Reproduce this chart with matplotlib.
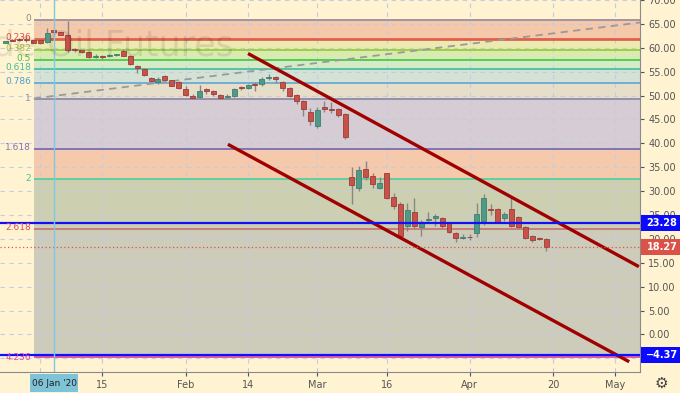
import matplotlib
matplotlib.use("Agg")
import matplotlib.pyplot as plt
from matplotlib.patches import Rectangle

# daily candles, bar index 0 = 06 Jan 2020 (trading days only)
idx = list(range(-7, 72))
opens = [61.1, 61.65, 61.75, 61.85, 61.7, 61.6, 61.2, 63.7, 63.2, 62.7, 59.8, 59.45,
         59.1, 58.1, 58.3, 58.2, 58.5, 59.4, 58.3, 56.2, 55.5, 53.7, 52.8, 54.0,
         53.2, 52.8, 51.3, 50.0, 49.6, 51.3, 51.0, 50.1, 49.6, 49.9, 51.8, 51.5,
         52.5, 52.4, 53.65, 53.8, 52.8, 51.5, 50.1, 48.8, 46.5, 43.6, 47.7, 47.1,
         47.2, 46.2, 33.0, 30.6, 34.6, 33.2, 30.6, 33.7, 28.7, 27.3, 22.8, 25.7,
         22.4, 23.9, 24.4, 24.3, 23.3, 21.2, 20.2, 20.35, 21.2, 23.8, 26.2, 26.2,
         24.3, 26.3, 24.6, 22.4, 20.7, 20.2, 20.0]
highs = [61.5, 61.85, 62.0, 62.2, 61.9, 61.9, 64.2, 63.9, 63.4, 65.7, 59.9, 59.6,
         59.3, 58.6, 58.5, 58.8, 58.7, 59.7, 58.4, 56.4, 55.7, 53.9, 53.8, 54.3,
         53.3, 53.1, 52.0, 50.3, 52.3, 51.6, 51.2, 50.4, 50.4, 51.6, 52.0, 52.4,
         52.8, 53.8, 54.6, 54.0, 53.0, 51.8, 50.4, 49.0, 47.5, 47.6, 48.8, 48.6,
         47.5, 46.4, 35.0, 35.2, 36.4, 33.8, 33.0, 33.9, 29.6, 27.7, 27.6, 28.6,
         24.0, 25.6, 25.2, 24.5, 23.4, 21.4, 21.0, 21.0, 27.6, 29.3, 27.3, 26.5,
         25.6, 28.7, 24.8, 22.6, 20.9, 20.3, 20.1]
lows = [60.9, 61.35, 61.4, 61.3, 60.9, 60.8, 61.1, 63.2, 62.6, 59.2, 59.1, 59.0,
        57.9, 57.9, 57.6, 58.0, 58.2, 58.2, 56.4, 54.7, 54.0, 52.8, 52.5, 53.1,
        51.9, 51.3, 49.9, 49.3, 49.4, 50.4, 50.0, 49.3, 49.3, 49.7, 51.2, 51.3,
        51.0, 52.0, 53.3, 52.6, 51.0, 49.6, 48.3, 45.7, 43.9, 43.3, 46.5, 46.4,
        45.6, 41.0, 27.3, 30.0, 32.3, 30.7, 30.4, 28.3, 26.3, 20.3, 21.7, 22.3,
        20.7, 23.3, 22.8, 22.3, 21.2, 19.3, 19.9, 19.8, 20.4, 23.0, 25.0, 23.3,
        23.8, 22.4, 22.0, 20.0, 19.4, 19.7, 17.5]
closes = [61.4, 61.5, 61.6, 61.55, 61.1, 61.1, 63.0, 63.3, 62.7, 59.6, 59.6, 59.15,
          58.0, 58.25, 58.0, 58.5, 58.55, 58.3, 56.7, 55.7, 54.2, 53.1, 53.5, 53.3,
          52.1, 51.6, 50.1, 49.5, 50.9, 50.9, 50.3, 49.5, 50.0, 51.4, 51.5, 52.3,
          52.3, 53.5, 53.75, 53.4, 51.5, 49.9, 48.8, 47.1, 44.6, 46.9, 47.1, 47.0,
          46.0, 41.3, 31.2, 34.4, 32.9, 31.5, 31.8, 28.6, 26.8, 20.6, 26.0, 22.6,
          23.3, 24.0, 24.7, 22.6, 21.5, 20.2, 20.5, 20.3, 25.3, 28.5, 26.1, 23.5,
          25.2, 22.6, 22.4, 20.2, 19.8, 19.9, 18.27]

# fibonacci levels (price)
fib_ratios = ["0", "0.236", "0.382", "0.5", "0.618", "0.786", "1", "1.618", "2", "2.618", "4.236"]
fib_prices = [65.75, 61.9, 59.45, 57.43, 55.5, 52.7, 49.2, 38.85, 32.5, 22.15, -4.8]
fib_line_colors = ["#9b8fa3", "#e0604f", "#9ccc32", "#4cc94c", "#4cc0a0", "#6aaad2",
                   "#8e8aa8", "#7a6cb8", "#55d0a0", "#c87878", "#e050a0"]
fib_text_colors = ["#8a8a8a", "#e05050", "#a8c83c", "#44c044", "#3cc09a", "#4aa0d0",
                   "#8a8ab0", "#7a74c0", "#3cc898", "#e05050", "#e040a0"]
fib_band_colors = ["#f5c8aa", "#ebeab0", "#d8ebb0", "#d5ebc8", "#d4e2d6", "#e6dec8",
                   "#d5cdd3", "#f5c9ab", "#cdcfb1", "#cdccbb"]
fib_start = -2.9

# drawings
trend_x = [-2.9, 84.6]
trend_y = [49.4, 65.3]
chan_up_x = [28.0, 84.4]
chan_up_y = [58.8, 14.2]
chan_lo_x = [25.1, 83.0]
chan_lo_y = [39.8, -5.7]
hlines_blue = [23.28, -4.37]
last_price = 18.27

tick_pos = [7, 19, 28, 38, 48, 60, 72, 81]
tick_lab = ["15", "Feb", "14", "Mar", "16", "Apr", "20", "May"]
grid_x = [-2, 7, 19, 28, 38, 48, 60, 72, 81]

cream = "#fff3d1"
up_c, up_e = "#4e9a86", "#3d7f6e"
dn_c, dn_e = "#c6524a", "#9c3c36"

YMIN, YMAX = -7.85, 69.65


def fig_y(p):
    # price -> figure fraction (axes spans 21..393 px from bottom)
    return (21 + (p - YMIN) / (YMAX - YMIN) * 372) / 393


fig = plt.figure(figsize=(6.8, 3.93), dpi=100)
fig.patch.set_facecolor(cream)
ax = fig.add_axes([0, 21 / 393, 640 / 680, 372 / 393])
ax.set_facecolor(cream)
ax.set_xlim(-7.79, 84.56)
ax.set_ylim(YMIN, YMAX)

# grid
for y in range(-5, 71, 5):
    ax.axhline(y, color="#c5cbe0", lw=0.8, ls=(0, (4, 4)), zorder=1.5)
for x in grid_x:
    ax.axvline(x, color="#c5cbe0", lw=0.8, ls=(0, (4, 4)), zorder=1.5)

# fib bands + lines
for i in range(len(fib_band_colors)):
    ax.fill_between([fib_start, 90], fib_prices[i + 1], fib_prices[i],
                    color=fib_band_colors[i], lw=0, zorder=0.5)
for i, p in enumerate(fib_prices):
    lw = 2.0 if fib_ratios[i] == "0.236" else 1.3
    ax.hlines(p, fib_start, 90, color=fib_line_colors[i], lw=lw, zorder=2)
    fig.text(31 / 680, fig_y(p), fib_ratios[i],
             color=fib_text_colors[i], fontsize=6.5, ha="right", va="center")

# watermark
fig.text(-68 / 680, 1 - 45 / 393, "Crude Oil Futures", fontsize=25,
         color="#000000", alpha=0.09, ha="left", va="center")

ax.plot(trend_x, trend_y, color="#9a9a9a", lw=1.3, ls=(0, (4, 3)), zorder=2.5)

# candles
for x, o, h, l, c in zip(idx, opens, highs, lows, closes):
    up = c >= o
    ax.vlines(x, l, h, color="#8d8585", lw=1, zorder=3)
    lo_b, hgt = min(o, c), max(abs(c - o), 0.18)
    ax.bar(x, hgt, bottom=lo_b, width=0.72, color=up_c if up else dn_c,
           edgecolor=up_e if up else dn_e, lw=0.6, zorder=3.5)

# channel
ax.plot(chan_up_x, chan_up_y, color="#a00000", lw=2.4, zorder=4, solid_capstyle="butt")
ax.plot(chan_lo_x, chan_lo_y, color="#a00000", lw=2.4, zorder=4, solid_capstyle="butt")

for p in hlines_blue:
    ax.axhline(p, color="#1010ff", lw=1.6, zorder=4.5)
ax.axhline(last_price, color="#e0524a", lw=0.9, ls=(0, (1, 2)), zorder=4.5)
ax.axvline(0, color="#7ec8e3", lw=1.0, zorder=4.6)

# axes styling
for s in ["left", "top"]:
    ax.spines[s].set_visible(False)
ax.spines["right"].set_color("#8a8a8a")
ax.spines["bottom"].set_color("#8a8a8a")
ax.yaxis.tick_right()
ax.set_yticks(range(-5, 71, 5))
ax.set_yticklabels([f"{v:.2f}" for v in range(-5, 71, 5)])
ax.set_xticks(tick_pos)
ax.set_xticklabels(tick_lab)
ax.tick_params(axis="both", labelsize=7, colors="#555555", length=3, width=0.8, pad=3)

# price boxes on right axis
for p, txt, col in [(23.28, "23.28", "#0a0aff"), (last_price, "18.27", "#db5248"),
                    (-4.37, "\u22124.37", "#0a0aff")]:
    fy = fig_y(p)
    fig.patches.append(Rectangle((641 / 680, fy - 8 / 393), 39 / 680, 16 / 393,
                                 transform=fig.transFigure, fc=col, ec="none", zorder=10))
    fig.text(662 / 680, fy, txt, fontsize=7, color="white", fontweight="bold",
             ha="center", va="center", zorder=11)

# date box
fig.patches.append(Rectangle((30 / 680, 1 - 392 / 393), 48 / 680, 18 / 393,
                             transform=fig.transFigure, fc="#7ec3d8", ec="none", zorder=10))
fig.text(54 / 680, 1 - 383 / 393, "06 Jan '20", fontsize=6.5, color="#222222",
         ha="center", va="center", zorder=11)

fig.text(661 / 680, 1 - 383 / 393, "\u2699", fontsize=11, color="#444444",
         ha="center", va="center")

fig.savefig("out.png", dpi=100, facecolor=cream)
